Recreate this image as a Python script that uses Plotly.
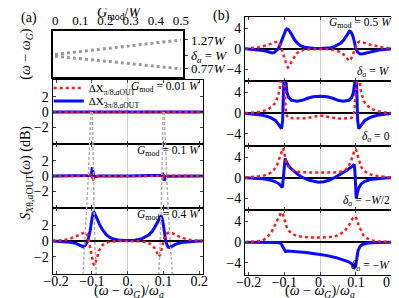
import plotly.graph_objects as go

# ---------------- data ----------------
g_mod = [0.0, 0.1, 0.2, 0.3, 0.4, 0.5]
omega_up = [1.02, 1.07, 1.12, 1.17, 1.22, 1.27]
omega_dn = [0.99, 0.95, 0.90, 0.86, 0.815, 0.77]

# gray dashed mode lines across the stacked (a) panels (depth 0=top, 1=bottom)
depth = [0.165, 0.33, 0.495, 0.66, 0.835, 1.0]
mode_l_out = [-0.103, -0.106, -0.110, -0.115, -0.120, -0.125]
mode_l_in = [-0.099, -0.097, -0.096, -0.095, -0.092, -0.088]
mode_r_in = [0.099, 0.098, 0.096, 0.094, 0.091, 0.087]
mode_r_out = [0.102, 0.105, 0.108, 0.113, 0.119, 0.125]

a1_blue = [(-0.21, 0), (0.21, 0)]
a1_red = [(-0.21, 0), (0.21, 0)]

a2_blue = [(-0.21, 0), (-0.11, 0), (-0.104, 0.05), (-0.101, 0.4), (-0.099, 1.15), (-0.097, 0.6),
           (-0.095, 0.1), (-0.092, -0.1), (-0.088, -0.05), (-0.08, 0), (0, 0), (0.09, 0.02),
           (0.095, 0.1), (0.098, 0.25), (0.1, 0.1), (0.102, -0.6), (0.104, -0.4), (0.107, -0.15),
           (0.112, -0.03), (0.21, 0)]
a2_red = [(-0.21, 0), (-0.11, 0.02), (-0.104, 0.2), (-0.101, 0.3), (-0.099, -0.2), (-0.097, -0.7),
          (-0.094, -0.2), (-0.09, 0), (0, 0), (0.09, 0.02), (0.096, -0.15), (0.099, -0.5),
          (0.101, 0.1), (0.103, 0.35), (0.106, 0.2), (0.112, 0.05), (0.21, 0)]

a3_blue = [(-0.21, 0), (-0.18, -0.05), (-0.16, -0.15), (-0.145, -0.3), (-0.135, -0.5), (-0.128, -0.7),
           (-0.124, -0.75), (-0.12, -0.6), (-0.115, -0.3), (-0.11, 0.3), (-0.105, 1.3), (-0.1, 2.8),
           (-0.097, 3.5), (-0.094, 3.65), (-0.09, 3.3), (-0.085, 2.8), (-0.08, 2.2), (-0.07, 1.4),
           (-0.06, 0.8), (-0.05, 0.45), (-0.04, 0.25), (-0.02, 0.08), (0, 0.05), (0.02, 0.1),
           (0.04, 0.3), (0.05, 0.5), (0.06, 0.8), (0.07, 1.3), (0.08, 2.0), (0.085, 2.5), (0.09, 3.0),
           (0.094, 3.2), (0.098, 2.6), (0.102, 1.3), (0.106, 0.1), (0.11, -0.5), (0.114, -0.8),
           (0.118, -0.82), (0.125, -0.65), (0.135, -0.4), (0.15, -0.2), (0.17, -0.07), (0.19, -0.02),
           (0.21, 0)]
a3_red = [(-0.21, 0), (-0.18, 0.1), (-0.16, 0.3), (-0.14, 0.65), (-0.13, 0.9), (-0.121, 1.1),
          (-0.115, 1.0), (-0.11, 0.4), (-0.105, -0.6), (-0.1, -2.0), (-0.096, -2.9), (-0.093, -3.1),
          (-0.09, -2.8), (-0.085, -1.9), (-0.08, -1.2), (-0.07, -0.5), (-0.06, -0.2), (-0.05, -0.08),
          (-0.04, -0.03), (-0.02, 0), (0, 0), (0.02, 0), (0.04, -0.05), (0.05, -0.15), (0.06, -0.3),
          (0.07, -0.6), (0.078, -1.1), (0.084, -1.7), (0.0875, -2.0), (0.092, -1.6), (0.097, -0.6),
          (0.102, 0.3), (0.108, 0.9), (0.116, 1.1), (0.125, 1.0), (0.14, 0.65), (0.16, 0.3),
          (0.18, 0.1), (0.21, 0)]

b1_blue = [(-0.21, 0), (-0.18, -0.15), (-0.16, -0.35), (-0.15, -0.5), (-0.14, -0.7), (-0.134, -0.85),
           (-0.128, -0.75), (-0.122, -0.4), (-0.117, 0), (-0.112, 0.8), (-0.106, 2.0), (-0.1, 3.2),
           (-0.096, 3.7), (-0.093, 3.9), (-0.089, 3.8), (-0.084, 3.3), (-0.078, 2.5), (-0.071, 1.7),
           (-0.064, 1.1), (-0.055, 0.6), (-0.044, 0.3), (-0.03, 0.1), (-0.015, 0.03), (0, 0.02),
           (0.015, 0.05), (0.03, 0.2), (0.04, 0.4), (0.05, 0.7), (0.058, 1.1), (0.066, 1.7),
           (0.072, 2.4), (0.077, 3.0), (0.082, 3.45), (0.086, 3.3), (0.09, 2.8), (0.095, 1.6),
           (0.1, 0), (0.105, -0.7), (0.112, -1.05), (0.12, -1.0), (0.13, -0.8), (0.145, -0.5),
           (0.165, -0.25), (0.185, -0.1), (0.21, 0)]
b1_red = [(-0.21, 0), (-0.19, 0.1), (-0.17, 0.3), (-0.15, 0.65), (-0.135, 1.0), (-0.125, 1.3),
          (-0.12, 1.4), (-0.115, 1.2), (-0.11, 0.5), (-0.105, -0.6), (-0.1, -1.9), (-0.095, -3.0),
          (-0.09, -3.7), (-0.085, -3.3), (-0.08, -2.5), (-0.072, -1.6), (-0.065, -0.9), (-0.055, -0.4),
          (-0.045, -0.2), (-0.03, -0.1), (-0.015, -0.05), (0, 0), (0.015, -0.05), (0.03, -0.15),
          (0.045, -0.35), (0.055, -0.6), (0.065, -1.1), (0.072, -1.6), (0.077, -2.1), (0.081, -2.4),
          (0.086, -2.1), (0.091, -1.2), (0.096, -0.2), (0.1, 0.6), (0.105, 1.2), (0.11, 1.4),
          (0.117, 1.3), (0.125, 1.1), (0.14, 0.8), (0.16, 0.4), (0.18, 0.15), (0.21, 0)]

b2_blue = [(-0.21, 0), (-0.18, -0.2), (-0.16, -0.4), (-0.14, -0.8), (-0.125, -1.4), (-0.115, -2.3),
           (-0.108, -3.0), (-0.105, -1.5), (-0.103, 3), (-0.101, 8), (-0.098, 8), (-0.096, 5.5),
           (-0.093, 4.0), (-0.088, 3.0), (-0.08, 2.5), (-0.065, 2.3), (-0.05, 2.5), (-0.035, 2.9),
           (-0.02, 3.2), (0, 3.3), (0.02, 3.2), (0.035, 2.9), (0.05, 2.5), (0.065, 2.3), (0.08, 2.5),
           (0.088, 3.0), (0.093, 4.0), (0.096, 5.5), (0.098, 8), (0.101, 8), (0.103, 3), (0.105, -1.5),
           (0.108, -3.0), (0.115, -2.3), (0.125, -1.4), (0.14, -0.8), (0.16, -0.4), (0.18, -0.2),
           (0.21, 0)]
b2_red = [(-0.21, 0), (-0.18, 0.15), (-0.16, 0.4), (-0.145, 0.8), (-0.135, 1.3), (-0.125, 2.0),
          (-0.118, 3.3), (-0.113, 4.7), (-0.109, 7), (-0.104, 8), (-0.1, 6), (-0.098, 3),
          (-0.096, 0.5), (-0.093, -0.5), (-0.088, -0.9), (-0.075, -1.0), (-0.06, -1.05),
          (-0.045, -1.0), (-0.03, -0.85), (-0.015, -0.6), (0, -0.45), (0.015, -0.6), (0.03, -0.85),
          (0.045, -1.0), (0.06, -1.05), (0.075, -1.0), (0.088, -0.9), (0.093, -0.5), (0.096, 0.5),
          (0.098, 3), (0.1, 6), (0.104, 8), (0.109, 7), (0.113, 4.7), (0.118, 3.3), (0.125, 2.0),
          (0.135, 1.3), (0.145, 0.8), (0.16, 0.4), (0.18, 0.15), (0.21, 0)]

b3_blue = [(-0.21, 0), (-0.18, -0.1), (-0.16, -0.2), (-0.14, -0.45), (-0.125, -0.8), (-0.115, -1.2),
           (-0.109, -1.6), (-0.106, -1.95), (-0.103, 0), (-0.1, 3.0), (-0.098, 3.8), (-0.095, 3.2),
           (-0.09, 2.5), (-0.083, 1.9), (-0.076, 1.4), (-0.065, 0.8), (-0.055, 0.3), (-0.045, -0.1),
           (-0.03, -0.5), (-0.015, -0.8), (-0.005, -0.9), (0.01, -0.8), (0.025, -0.5), (0.04, 0),
           (0.055, 0.6), (0.067, 1.1), (0.076, 1.5), (0.085, 2.0), (0.091, 2.4), (0.095, 2.6),
           (0.097, 1.5), (0.099, -1.5), (0.101, -4.1), (0.104, -3.0), (0.108, -2.0), (0.115, -1.2),
           (0.125, -0.7), (0.14, -0.35), (0.16, -0.15), (0.18, -0.05), (0.21, 0)]
b3_red = [(-0.21, 0), (-0.18, 0.15), (-0.16, 0.35), (-0.14, 0.9), (-0.13, 1.5), (-0.12, 2.6),
          (-0.113, 3.9), (-0.108, 5.2), (-0.104, 5.8), (-0.1, 4.8), (-0.096, 3.4), (-0.09, 2.3),
          (-0.083, 1.7), (-0.075, 1.35), (-0.06, 1.15), (-0.04, 1.05), (-0.02, 1.0), (0, 1.0),
          (0.02, 1.0), (0.04, 1.05), (0.06, 1.2), (0.07, 1.5), (0.078, 2.1), (0.085, 3.0),
          (0.091, 4.2), (0.096, 5.3), (0.1, 5.6), (0.104, 4.5), (0.108, 3.3), (0.114, 2.2),
          (0.122, 1.4), (0.135, 0.8), (0.15, 0.45), (0.17, 0.2), (0.19, 0.08), (0.21, 0)]

b4_blue = [(-0.21, 0), (-0.15, 0), (-0.12, -0.05), (-0.11, -0.2), (-0.105, -0.8), (-0.1, -1.6),
           (-0.097, -1.8), (-0.09, -1.7), (-0.07, -1.8), (-0.04, -2.0), (-0.01, -2.3), (0.02, -2.6),
           (0.045, -3.0), (0.065, -3.4), (0.08, -3.8), (0.09, -4.3), (0.096, -4.9), (0.099, -4.7),
           (0.102, -3.0), (0.106, -1.6), (0.112, -0.8), (0.12, -0.4), (0.135, -0.15), (0.16, -0.05),
           (0.21, 0)]
b4_red = [(-0.21, 0), (-0.19, 0.05), (-0.175, 0.1), (-0.165, 0.25), (-0.155, 0.6), (-0.145, 1.2),
          (-0.135, 2.1), (-0.127, 3.2), (-0.12, 4.3), (-0.114, 5.3), (-0.109, 5.8), (-0.104, 5.4),
          (-0.099, 4.2), (-0.094, 3.0), (-0.087, 2.2), (-0.078, 1.6), (-0.065, 1.2), (-0.045, 1.0),
          (-0.02, 0.9), (0, 0.9), (0.02, 0.95), (0.04, 1.1), (0.055, 1.5), (0.067, 2.1), (0.077, 2.9),
          (0.085, 3.8), (0.091, 4.6), (0.097, 5.0), (0.102, 4.5), (0.107, 3.4), (0.113, 2.3),
          (0.12, 1.4), (0.13, 0.8), (0.145, 0.35), (0.16, 0.15), (0.18, 0.05), (0.21, 0)]

x_ticks = [-0.2, -0.1, 0.0, 0.1, 0.2]
x_ticktext = ["\u22120.2", "\u22120.1", "0.", "0.1", "0.2"]
a_yticks = [-2, 0, 2]
b_yticks = [-4, 0, 4]
g_ticks = [0, 0.1, 0.2, 0.3, 0.4, 0.5]
top_right_ticks = [0.77, 1.0, 1.27]
top_right_text = ["0.77<i>W</i>", "<i>δ<sub>a</sub></i> = <i>W</i>", "1.27<i>W</i>"]
a_labels = ["<i>G</i><sub>mod</sub> = 0.01 <i>W</i>", "<i>G</i><sub>mod</sub> = 0.1 <i>W</i>",
            "<i>G</i><sub>mod</sub> = 0.4 <i>W</i>"]
b_labels = ["<i>δ<sub>a</sub></i> = <i>W</i>", "<i>δ<sub>a</sub></i> = 0",
            "<i>δ<sub>a</sub></i> = −<i>W</i>/2", "<i>δ<sub>a</sub></i> = −<i>W</i>"]

# ---------------- figure ----------------
W, H = 399, 298
FONT = "Liberation Serif"
BLUE = "#0a0aff"
RED = "#ff1a1a"


def px(x):
    return x / W


def py(y):
    return 1 - y / H


fig = go.Figure()

# top-left panel
fig.add_trace(go.Scatter(x=g_mod, y=omega_up, mode="lines", xaxis="x", yaxis="y", showlegend=False,
                         line=dict(color="#9a9a9a", width=3, dash="dot")))
fig.add_trace(go.Scatter(x=g_mod, y=omega_dn, mode="lines", xaxis="x", yaxis="y", showlegend=False,
                         line=dict(color="#9a9a9a", width=3, dash="dot")))

panels = [(a1_blue, a1_red, 2), (a2_blue, a2_red, 3), (a3_blue, a3_red, 4),
          (b1_blue, b1_red, 5), (b2_blue, b2_red, 6), (b3_blue, b3_red, 7), (b4_blue, b4_red, 8)]
for blue, red, k in panels:
    fig.add_trace(go.Scatter(x=[p[0] for p in blue], y=[p[1] for p in blue], mode="lines",
                             xaxis=f"x{k}", yaxis=f"y{k}", line=dict(color=BLUE, width=3),
                             name="ΔX<sub>3π/8,<i>a</i>OUT</sub>", showlegend=(k == 2), legend="legend2"))
    fig.add_trace(go.Scatter(x=[p[0] for p in red], y=[p[1] for p in red], mode="lines",
                             xaxis=f"x{k}", yaxis=f"y{k}", line=dict(color=RED, width=2.5, dash="dot"),
                             name="ΔX<sub>π/8,<i>a</i>OUT</sub>", showlegend=(k == 2), legend="legend"))

for xs in (mode_l_out, mode_l_in, mode_r_in, mode_r_out):
    fig.add_trace(go.Scatter(x=xs, y=depth, mode="lines", xaxis="x9", yaxis="y9", showlegend=False,
                             line=dict(color="#b0b0b0", width=1.5, dash="3px,2px")))

frame = dict(showline=True, linecolor="black", linewidth=1.1, showgrid=False,
             tickfont=dict(family=FONT, size=14, color="black"))
leg = dict(xanchor="left", yanchor="middle", bgcolor="rgba(0,0,0,0)",
           font=dict(family=FONT, size=11), itemwidth=30, tracegroupgap=0)

layout = dict(
    width=W, height=H, margin=dict(l=0, r=0, t=0, b=0),
    paper_bgcolor="white", plot_bgcolor="rgba(0,0,0,0)",
    font=dict(family=FONT, size=13, color="black"),
    legend=dict(leg, x=px(33), y=py(80)),
    legend2=dict(leg, x=px(33), y=py(93)),
)

layout["xaxis"] = dict(frame, domain=[px(37), px(173)], range=[-0.01, 0.51], side="top",
                       tickvals=g_ticks, ticktext=["0", "0.1", "0.2", "0.3", "0.4", "0.5"],
                       ticks="", zeroline=False, anchor="y", linewidth=1.6, mirror=True,
                       ticklabelstandoff=-1, tickfont=dict(family=FONT, size=13, color="black"))
layout["yaxis"] = dict(frame, domain=[py(69), py(23)], range=[0.63, 1.425], side="right",
                       tickvals=top_right_ticks, ticktext=top_right_text, ticks="outside", ticklen=3,
                       zeroline=False, anchor="x", linewidth=1.6, mirror=True,
                       tickfont=dict(family=FONT, size=13, color="black"))

left_rows = [(72, 136), (136, 200), (200, 266)]
right_rows = [(8.7, 72.7), (72.7, 137.7), (137.7, 201.7), (201.7, 266.7)]
for i, (t, b) in enumerate(left_rows):
    k = i + 2
    layout[f"xaxis{k}"] = dict(frame, domain=[px(37), px(193)], range=[-0.21, 0.21], tickvals=x_ticks,
                               ticktext=x_ticktext, ticks="inside", ticklen=3, mirror="ticks",
                               showticklabels=(i == 2), zeroline=True, zerolinecolor="#cfcfcf",
                               zerolinewidth=1, anchor=f"y{k}", ticklabelstandoff=-6)
    layout[f"yaxis{k}"] = dict(frame, domain=[py(b), py(t)], range=[-4.2, 4.2], tickvals=a_yticks,
                               ticktext=["\u22122", "0", "2"], ticks="inside", ticklen=3,
                               mirror="ticks", zeroline=True, zerolinecolor="black", zerolinewidth=2,
                               anchor=f"x{k}")
for i, (t, b) in enumerate(right_rows):
    k = i + 5
    layout[f"xaxis{k}"] = dict(frame, domain=[px(237), px(393)], range=[-0.21, 0.21], tickvals=x_ticks,
                               ticktext=x_ticktext, ticks="inside", ticklen=3, mirror="ticks",
                               showticklabels=(i == 3), zeroline=True, zerolinecolor="#cfcfcf",
                               zerolinewidth=1, anchor=f"y{k}", ticklabelstandoff=-6)
    layout[f"yaxis{k}"] = dict(frame, domain=[py(b), py(t)], range=[-6.3, 6.3], tickvals=b_yticks,
                               ticktext=["\u22124", "0", "4"], ticks="inside", ticklen=3,
                               mirror="ticks", zeroline=True, zerolinecolor="black", zerolinewidth=2,
                               anchor=f"x{k}")
layout["xaxis9"] = dict(domain=[px(37), px(193)], range=[-0.21, 0.21], visible=False, anchor="y9")
layout["yaxis9"] = dict(domain=[py(266), py(72)], range=[1, 0], visible=False, anchor="x9")

ann = []
for i, (t, b) in enumerate(left_rows):
    ann.append(dict(text=a_labels[i], x=px(192), y=py(t + 7), xanchor="right", yanchor="middle",
                    font=dict(family=FONT, size=11.5)))
ann.append(dict(text="<i>G</i><sub>mod</sub> = 0.5 <i>W</i>", x=px(392), y=py(15), xanchor="right",
                yanchor="middle", font=dict(family=FONT, size=11.5)))
for i, (t, b) in enumerate(right_rows):
    ann.append(dict(text=b_labels[i], x=px(390), y=py(b - 9), xanchor="right", yanchor="middle",
                    font=dict(family=FONT, size=11.5)))
ann += [
    dict(text="(a)", x=px(2), y=py(10), xanchor="left", yanchor="middle", font=dict(family=FONT, size=14)),
    dict(text="(b)", x=px(202), y=py(8), xanchor="left", yanchor="middle", font=dict(family=FONT, size=14)),
    dict(text="<i>G</i><sub>mod</sub>/<i>W</i>", x=px(106), y=py(5), xanchor="center", yanchor="middle",
         font=dict(family=FONT, size=14)),
    dict(text="(<i>ω</i> − <i>ω<sub>G</sub></i>)", x=px(9), y=py(46), textangle=-90, xanchor="center",
         yanchor="middle", font=dict(family=FONT, size=14)),
    dict(text="<i>S</i><sub><i>X</i>θ,<i>a</i>OUT</sub>(<i>ω</i>) (dB)", x=px(9), y=py(165), textangle=-90,
         xanchor="center", yanchor="middle", font=dict(family=FONT, size=14)),
    dict(text="(<i>ω</i> − <i>ω<sub>G</sub></i>)/<i>ω<sub>a</sub></i>", x=px(116), y=py(283),
         xanchor="center", yanchor="middle", font=dict(family=FONT, size=14)),
    dict(text="(<i>ω</i> − <i>ω<sub>G</sub></i>)/<i>ω<sub>a</sub></i>", x=px(315), y=py(283),
         xanchor="center", yanchor="middle", font=dict(family=FONT, size=14)),
]
for a in ann:
    a.setdefault("showarrow", False)
    a.setdefault("xref", "paper")
    a.setdefault("yref", "paper")
layout["annotations"] = ann

fig.update_layout(**layout)
fig.write_html("out.html")
